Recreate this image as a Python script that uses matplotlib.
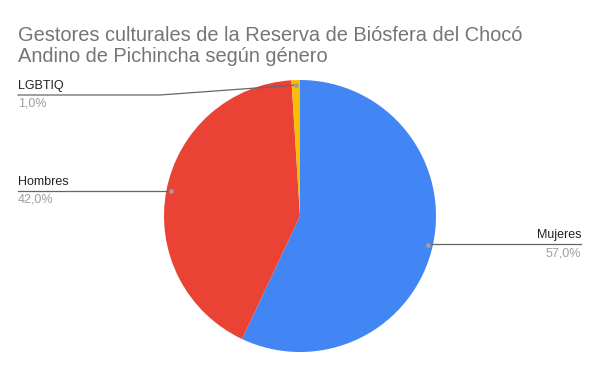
import numpy as np
import matplotlib
matplotlib.use('Agg')
import matplotlib.pyplot as plt

labels = ['Mujeres', 'Hombres', 'LGBTIQ']
values = [57.0, 42.0, 1.0]
colors = ['#4285F4', '#EA4335', '#FBBC04']

plt.rcParams['font.family'] = ['Liberation Sans', 'DejaVu Sans']

W, H = 600, 371
fig = plt.figure(figsize=(W / 100, H / 100), dpi=100)
ax = fig.add_axes([0, 0, 1, 1])

cx, cy, r = 300, H - 216, 136
ax.pie(values, colors=colors, startangle=90, counterclock=False,
       center=(cx, cy), radius=r, frame=True,
       wedgeprops=dict(linewidth=0))
ax.set_xlim(0, W)
ax.set_ylim(0, H)
ax.set_aspect('equal')
ax.axis('off')

# title baseline of second line at ~62 px from top
fig.text(18 / W, 1 - 62 / H,
         'Gestores culturales de la Reserva de Biósfera del Chocó\nAndino de Pichincha según género',
         ha='left', va='baseline', fontsize=14.4, color='#757575', linespacing=1.15)

# label layout: (text x, line y in pixels, side)
layout = {'Mujeres': (581, 244, 'right'),
          'Hombres': (18, 191, 'left'),
          'LGBTIQ': (18, 95, 'left')}

total = sum(values)
cum = 0
for lab, v in zip(labels, values):
    mid = 90 - (cum + v / 2) / total * 360
    cum += v
    a = np.deg2rad(mid)
    px = cx + 0.963 * r * np.cos(a)
    py = cy + 0.963 * r * np.sin(a)
    tx, ly, side = layout[lab]
    ly = H - ly
    if side == 'left':
        if abs(py - ly) > 2:
            ax.plot([tx, 160, px], [ly, ly, py], color='#666666', lw=0.9)
        else:
            ax.plot([tx, px], [ly, ly], color='#666666', lw=0.9)
        ha = 'left'
    else:
        ax.plot([px, tx], [ly, ly], color='#666666', lw=0.9)
        ha = 'right'
    ax.plot(px, py, 'o', color='#9e9e9e', ms=3.5, mec='none')
    ax.text(tx, ly + 3, lab, ha=ha, va='bottom', fontsize=9, color='#222222')
    ax.text(tx, ly - 3, f'{v:.1f}%'.replace('.', ','), ha=ha, va='top',
            fontsize=9, color='#9e9e9e')

fig.savefig('out.png', dpi=100)
